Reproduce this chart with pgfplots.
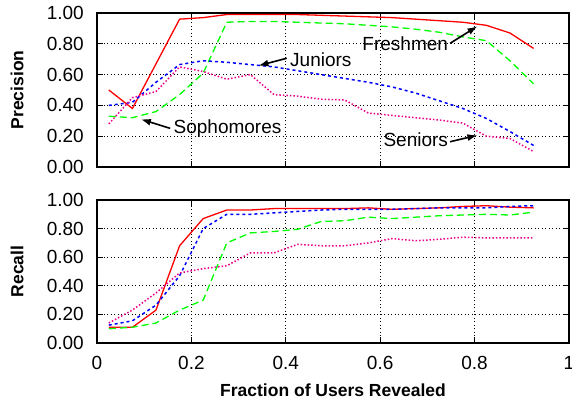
\documentclass[border=0pt]{standalone}
\usepackage{fontspec}
\setmainfont{Liberation Sans}
\usepackage{pgfplots}
\usepackage{pgfplotstable}
\pgfplotsset{compat=1.18}
\usetikzlibrary{arrows.meta}

% precision per class
\pgfplotstableread{
x     fr    so    ju    se
0.025 0.50  0.33  0.40  0.28
0.075 0.38  0.32  0.42  0.45
0.125 0.67  0.36  0.55  0.49
0.175 0.96  0.47  0.665 0.65
0.225 0.97  0.61  0.69  0.62
0.275 0.99  0.94  0.68  0.57
0.325 0.99  0.945 0.665 0.60
0.375 0.99  0.945 0.65  0.47
0.425 0.99  0.94  0.625 0.46
0.475 0.985 0.935 0.60  0.44
0.525 0.98  0.93  0.575 0.435
0.575 0.975 0.92  0.55  0.35
0.625 0.97  0.91  0.52  0.335
0.675 0.96  0.895 0.48  0.32
0.725 0.95  0.875 0.43  0.305
0.775 0.94  0.845 0.38  0.285
0.825 0.92  0.82  0.315 0.20
0.875 0.87  0.69  0.23  0.185
0.925 0.77  0.54  0.14  0.10
}\prectab

% recall per class
\pgfplotstableread{
x     fr    so    ju    se
0.025 0.11  0.10  0.125 0.14
0.075 0.11  0.11  0.155 0.23
0.125 0.23  0.14  0.265 0.35
0.175 0.68  0.23  0.47  0.49
0.225 0.87  0.30  0.80  0.52
0.275 0.93  0.70  0.90  0.54
0.325 0.93  0.77  0.90  0.63
0.375 0.94  0.78  0.91  0.63
0.425 0.94  0.795 0.92  0.69
0.475 0.94  0.85  0.93  0.68
0.525 0.94  0.855 0.935 0.68
0.575 0.945 0.88  0.935 0.70
0.625 0.935 0.87  0.935 0.73
0.675 0.94  0.88  0.94  0.715
0.725 0.945 0.89  0.945 0.725
0.775 0.955 0.895 0.945 0.74
0.825 0.96  0.90  0.945 0.735
0.875 0.95  0.895 0.955 0.735
0.925 0.945 0.915 0.96  0.735
}\rectab

\pgfplotsset{
  panel/.style={
    scale only axis, width=472bp,
    xmin=0, xmax=1, ymin=0, ymax=1,
    xtick={0,0.2,0.4,0.6,0.8,1},
    ytick={0,0.2,0.4,0.6,0.8,1},
    grid=major,
    major grid style={black, line width=0.7bp, dash pattern=on 1bp off 2.5bp},
    axis line style={black, line width=1.5bp},
    tick align=inside, major tick length=6bp,
    tick style={black, line width=1.1bp},
    /pgf/number format/assume math mode=true,
    yticklabel style={/pgf/number format/.cd, fixed, fixed zerofill, precision=2,
      /tikz/.cd, anchor=east, inner sep=0pt, xshift=-13bp,
      font=\fontsize{19bp}{22bp}\selectfont},
    xticklabel style={anchor=north, inner sep=0pt, yshift=-13bp,
      font=\fontsize{19bp}{22bp}\selectfont},
    ylabel style={at={(axis description cs:0,0.5)}, anchor=center,
      yshift=80bp, font=\fontsize{17.5bp}{20bp}\selectfont\bfseries},
    xlabel style={at={(axis description cs:0.5,0)}, anchor=center,
      yshift=-47bp, font=\fontsize{17.5bp}{20bp}\selectfont\bfseries},
    clip=false,
    no markers,
  },
  fr/.style={red, line width=1.3bp},
  so/.style={green, line width=1.3bp, dash pattern=on 7bp off 4bp},
  ju/.style={blue, line width=1.5bp, dash pattern=on 3bp off 3bp},
  se/.style={magenta, line width=1.5bp, dash pattern=on 1.5bp off 2bp},
}

\begin{document}
\begin{tikzpicture}[font=\fontsize{19bp}{22bp}\selectfont]
\begin{axis}[panel, height=154bp, at={(0,176bp)}, anchor=south west,
    xticklabels={}, ylabel={Precision}]
  \addplot[fr] table[x=x, y=fr] {\prectab};
  \addplot[so] table[x=x, y=so] {\prectab};
  \addplot[ju] table[x=x, y=ju] {\prectab};
  \addplot[se] table[x=x, y=se] {\prectab};

  \draw[-{Latex[length=10bp, width=7bp]}, line width=1.6bp]
    (axis cs:0.402,0.706) -- (axis cs:0.342,0.658);
  \node[anchor=west, inner sep=0pt] at (axis cs:0.409,0.695) {Juniors};
  \draw[-{Latex[length=10bp, width=7bp]}, line width=1.6bp]
    (axis cs:0.155,0.251) -- (axis cs:0.093,0.310);
  \node[anchor=west, inner sep=0pt] at (axis cs:0.162,0.251) {Sophomores};
  \draw[-{Latex[length=10bp, width=7bp]}, line width=1.6bp]
    (axis cs:0.748,0.803) -- (axis cs:0.806,0.914);
  \node[anchor=east, inner sep=0pt] at (axis cs:0.744,0.803) {Freshmen};
  \draw[-{Latex[length=10bp, width=7bp]}, line width=1.6bp]
    (axis cs:0.748,0.164) -- (axis cs:0.806,0.206);
  \node[anchor=east, inner sep=0pt] at (axis cs:0.744,0.175) {Seniors};
\end{axis}

\begin{axis}[panel, height=143bp, at={(0,0)}, anchor=south west,
    ylabel={Recall}, xlabel={Fraction of Users Revealed}]
  \addplot[fr] table[x=x, y=fr] {\rectab};
  \addplot[so] table[x=x, y=so] {\rectab};
  \addplot[ju] table[x=x, y=ju] {\rectab};
  \addplot[se] table[x=x, y=se] {\rectab};
\end{axis}

\pgfresetboundingbox
\useasboundingbox (-97bp,-59bp) rectangle (475bp,343bp);
\end{tikzpicture}
\end{document}
